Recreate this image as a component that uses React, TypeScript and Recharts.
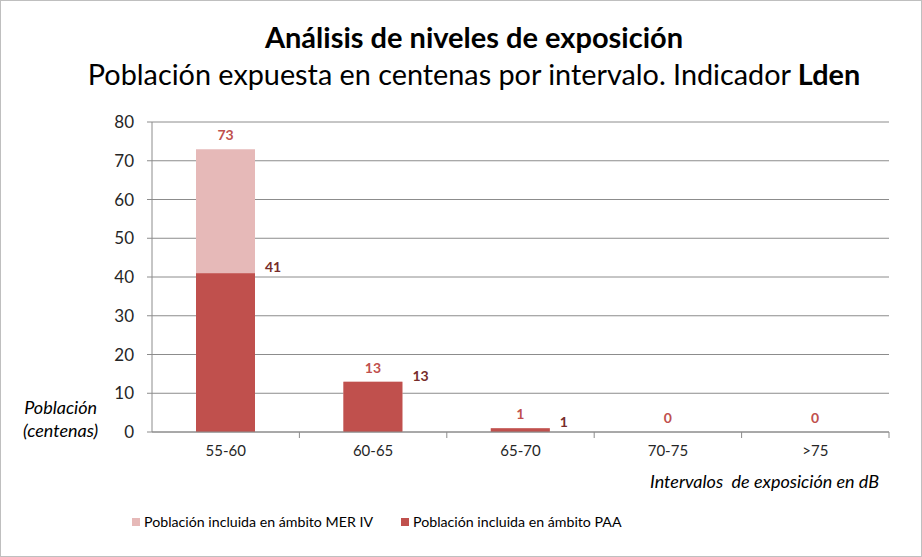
import { BarChart, Bar, XAxis, YAxis, CartesianGrid, LabelList } from "recharts";

// Intervalos de exposición (dB) and población (centenas)
const intervals = ["55-60", "60-65", "65-70", "70-75", ">75"];
const merIV = [73, 13, 1, 0, 0];
const paa = [41, 13, 1, 0, 0];
const yTicks = [0, 10, 20, 30, 40, 50, 60, 70, 80];

const data = intervals.map((name, i) => ({ name, mer: merIV[i], paa: paa[i] }));

const FONT = "Lato, 'Open Sans', sans-serif";
const LIGHT = "#e6b9b8";
const DARK = "#c0504d";
const BAND = 737 / intervals.length;

const XTick = (props: any) => {
  const { x, y, payload } = props;
  return (
    <g>
      <line x1={x + BAND / 2} x2={x + BAND / 2} y1={y - 8} y2={y - 2} stroke="#8c8c8c" />
      <text x={x} y={y + 16} textAnchor="middle" fontSize={15} fill="#262626" fontFamily={FONT}>
        {payload.value}
      </text>
    </g>
  );
};

const MerLabel = (props: any) => {
  const { x, y, width, value } = props;
  return (
    <text x={x + width / 2} y={y - 9} textAnchor="middle" fontSize={14} fontWeight="bold" fill={DARK} fontFamily={FONT}>
      {value}
    </text>
  );
};

const PaaLabel = (props: any) => {
  const { x, y, width, value } = props;
  if (!value) return null;
  return (
    <text x={x + width + 10} y={y - 1} fontSize={14} fontWeight="bold" fill="#772c2a" fontFamily={FONT}>
      {value}
    </text>
  );
};

export default function App() {
  return (
    <div
      style={{
        position: "relative",
        width: 920,
        height: 555,
        border: "1px solid #bfbfbf",
        background: "#fff",
        fontFamily: FONT,
        color: "#000",
      }}
    >
      <style>{"body{margin:0}"}</style>
      <div style={{ position: "absolute", top: 18, left: 26, right: 0, textAlign: "center", fontSize: 29, fontWeight: "bold", lineHeight: "36px" }}>
        Análisis de niveles de exposición
      </div>
      <div style={{ position: "absolute", top: 55, left: 26, right: 0, textAlign: "center", fontSize: 28.8, lineHeight: "36px" }}>
        Población expuesta en centenas por intervalo. Indicador <b>Lden</b>
      </div>
      <BarChart
        width={920}
        height={555}
        data={data}
        margin={{ top: 121, right: 32, left: 91, bottom: 94 }}
        barGap={-59}
      >
        <CartesianGrid vertical={false} stroke="#8c8c8c" />
        <XAxis
          dataKey="name"
          height={30}
          stroke="#8c8c8c"
          tickLine={false}
          tick={<XTick />}
          interval={0}
        />
        <YAxis
          width={60}
          domain={[0, 80]}
          ticks={yTicks}
          stroke="#8c8c8c"
          tickSize={5}
          tickMargin={13}
          tick={{ fill: "#262626", fontSize: 17, fontFamily: FONT }}
        />
        <Bar dataKey="mer" fill={LIGHT} barSize={59} minPointSize={0.01} isAnimationActive={false}>
          <LabelList dataKey="mer" content={<MerLabel />} />
        </Bar>
        <Bar dataKey="paa" fill={DARK} barSize={59} isAnimationActive={false}>
          <LabelList dataKey="paa" content={<PaaLabel />} />
        </Bar>
      </BarChart>
      <div style={{ position: "absolute", left: 22, top: 395, fontSize: 18, fontStyle: "italic", textAlign: "center", lineHeight: "23px" }}>
        Población
        <br />
        (centenas)
      </div>
      <div style={{ position: "absolute", left: 649, top: 469, fontSize: 18, fontStyle: "italic", whiteSpace: "pre" }}>
        Intervalos  de exposición en dB
      </div>
      <div style={{ position: "absolute", left: 131, top: 512, fontSize: 14.2, display: "flex", alignItems: "center" }}>
        <span style={{ display: "inline-block", width: 8, height: 8, background: LIGHT, marginRight: 4 }} />
        Población incluida en ámbito MER IV
      </div>
      <div style={{ position: "absolute", left: 400, top: 512, fontSize: 14.2, display: "flex", alignItems: "center" }}>
        <span style={{ display: "inline-block", width: 8, height: 8, background: DARK, marginRight: 4 }} />
        Población incluida en ámbito PAA
      </div>
    </div>
  );
}
